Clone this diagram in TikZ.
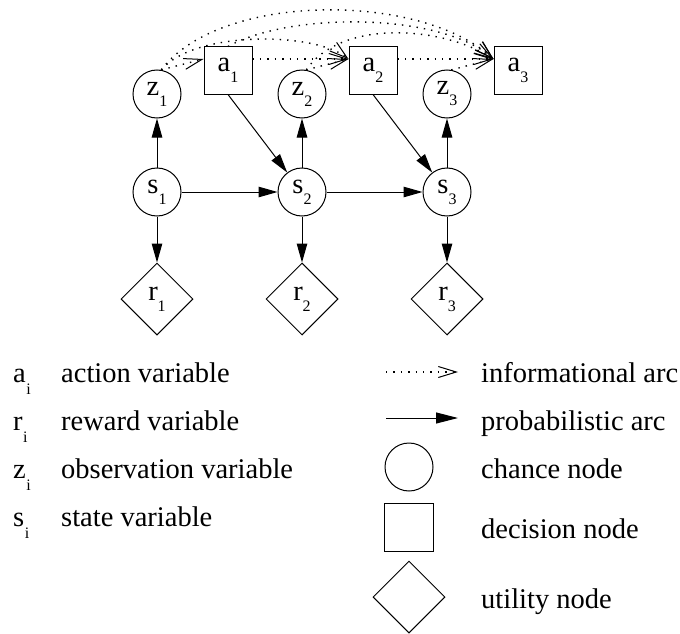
\documentclass[tikz,border=0pt]{standalone}
\usepackage{fontspec}
\setmainfont{Liberation Serif}
\usetikzlibrary{arrows.meta,shapes.geometric,calc}
\newcommand\lbl[2]{#1\raisebox{-11pt}{\fontsize{16}{16}\selectfont #2}}
\newcommand\lgl[2]{#1\kern0.5pt\raisebox{-12pt}{\fontsize{16}{16}\selectfont #2}}
\begin{document}
\begin{tikzpicture}[x=1pt,y=-1pt,
  every node/.style={font=\fontsize{28.5}{30}\selectfont, inner sep=0pt},
  chance/.style={draw, circle, minimum size=48pt, line width=1pt},
  decision/.style={draw, rectangle, minimum width=48pt, minimum height=47pt, line width=1pt},
  utility/.style={draw, diamond, aspect=1, minimum width=72pt, minimum height=72pt, line width=1pt},
  prob/.style={line width=1pt, -{Triangle[length=19pt,width=10.5pt]}},
  info/.style={line width=1.4pt, dash pattern=on 1.4pt off 6pt, -{Straight Barb[length=18pt,width=11pt,line width=1pt]}},
  lbl/.style={anchor=base west}]
\useasboundingbox (0,0) rectangle (680,634);
% diagram nodes
\node[chance] (z1) at (157,94) {\lbl{z}{1}};
\node[chance] (z2) at (302,94) {\lbl{z}{2}};
\node[chance] (z3) at (447,94) {\lbl{z}{3}};
\node[decision] (a1) at (228,70.5) {\lbl{a}{1}};
\node[decision] (a2) at (373,70.5) {\lbl{a}{2}};
\node[decision] (a3) at (518,70.5) {\lbl{a}{3}};
\node[chance] (s1) at (157,192) {\lbl{s}{1}};
\node[chance] (s2) at (302,192) {\lbl{s}{2}};
\node[chance] (s3) at (447,192) {\lbl{s}{3}};
\node[utility] (r1) at (157,299) {\lbl{r}{1}};
\node[utility] (r2) at (302,299) {\lbl{r}{2}};
\node[utility] (r3) at (447,299) {\lbl{r}{3}};
% entry points of informational arcs
\coordinate (a1in) at ([yshift=11.5pt]a1.west);
\coordinate (a2in) at ([yshift=11.5pt]a2.west);
\coordinate (a3in) at ([yshift=11.5pt]a3.west);
\coordinate (a1out) at ([yshift=11.5pt]a1.east);
\coordinate (a2out) at ([yshift=11.5pt]a2.east);
% probabilistic arcs
\draw[prob] (s1) -- (z1);
\draw[prob] (s2) -- (z2);
\draw[prob] (s3) -- (z3);
\draw[prob] (s1) -- (s2);
\draw[prob] (s2) -- (s3);
\draw[prob] (s1) -- (r1);
\draw[prob] (s2) -- (r2);
\draw[prob] (s3) -- (r3);
\draw[prob] (a1.south) -- (s2);
\draw[prob] (a2.south) -- (s3);
% informational arcs
\draw[info] (z1.80) -- (a1in);
\draw[info] (z1.80) .. controls (195,30) and (315,32) .. (a2in);
\draw[info] (z1.80) .. controls (220,-8) and (420,-8) .. (a3in);
\draw[info] (a1.north) .. controls (290,12) and (440,12) .. (a3in);
\draw[info] (z2.80) .. controls (340,20) and (440,25) .. (a3in);
\draw[info] (z2.80) -- (a2in);
\draw[info] (z3.80) -- (a3in);
\draw[info] (a1out) -- (a2in);
\draw[info] (a2out) -- (a3in);
% legend, left
\node[lbl] (la) at (13,382) {\lgl{a}{i}};
\node[lbl] (lr) at (13,430) {\lgl{r}{i}};
\node[lbl] (lz) at (13,478) {\lgl{z}{i}};
\node[lbl] (ls) at (13,526) {\lgl{s}{i}};
\node[lbl] (ta) at (61,382) {action variable};
\node[lbl] (tr) at (61,430) {reward variable};
\node[lbl] (tz) at (61,478) {observation variable};
\node[lbl] (ts) at (61,526) {state variable};
% legend, right
\coordinate (i0) at (386,372);
\coordinate (i1) at (458,372);
\draw[info] (i0) -- (i1);
\coordinate (p0) at (386,418);
\coordinate (p1) at (458,418);
\draw[line width=1pt, -{Triangle[length=22pt,width=11pt]}] (p0) -- (p1);
\node[chance] (lc) at (409,467) {};
\node[decision, minimum width=49pt, minimum height=48pt] (ld) at (409,527) {};
\node[utility] (lu) at (409,597) {};
\node[lbl] (ti) at (481,382) {informational arc};
\node[lbl] (tp) at (481,430) {probabilistic arc};
\node[lbl] (tc) at (481,478) {chance node};
\node[lbl] (td) at (481,538) {decision node};
\node[lbl] (tu) at (481,608) {utility node};
\end{tikzpicture}
\end{document}
